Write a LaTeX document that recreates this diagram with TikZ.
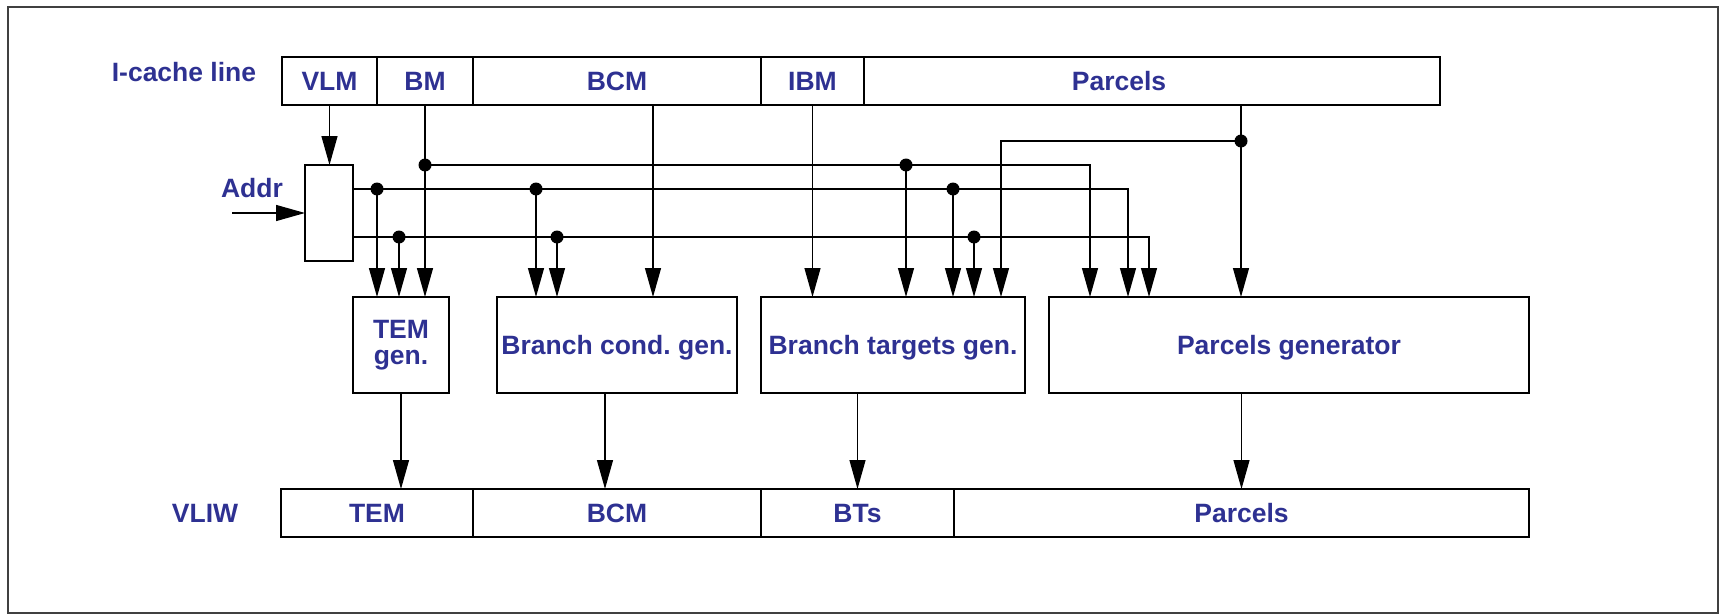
\documentclass[tikz,border=0pt]{standalone}
\usepackage{fontspec}
\setmainfont{Liberation Sans}
\usetikzlibrary{arrows.meta,positioning}
\definecolor{LabelBlue}{RGB}{46,49,146}
\definecolor{FrameGray}{RGB}{64,64,64}
\frenchspacing

\begin{document}
\begin{tikzpicture}[
  x=1pt,y=-1pt,
  font=\fontsize{26.5}{26}\selectfont\bfseries,
  every node/.style={text=LabelBlue,outer sep=0pt,inner sep=0pt},
  cell/.style={draw=black,line width=1.3pt,minimum height=48pt,text depth=0pt},
  gen/.style={draw=black,line width=1.3pt,minimum height=96pt,align=center},
  wire/.style={line width=1.3pt},
  arr/.style={wire,-{Triangle[length=29pt,width=16pt]}},
  dot/.style={circle,fill=black,minimum size=13pt}
]
\useasboundingbox (0,0) rectangle (1736,615);
\draw[line width=2pt,draw=FrameGray] (8,7) rectangle (1718,613);

% instruction cache line
\node (icache) at (184,72) {I-cache line};
\node[cell,minimum width=95pt,anchor=north west] (vlm) at (282,57) {VLM};
\node[cell,minimum width=96pt,right=0pt of vlm] (bm) {BM};
\node[cell,minimum width=288pt,right=0pt of bm] (bcm) {BCM};
\node[cell,minimum width=103pt,right=0pt of bcm] (ibm) {IBM};
\node[cell,minimum width=576pt,right=0pt of ibm,label={[xshift=-33pt]center:Parcels}] (parcels) {};

% address box
\node (addrlbl) at (252,188) {Addr};
\node[draw=black,line width=1.3pt,minimum width=48pt,minimum height=96pt,anchor=north west] (addr) at (305,165) {};
\coordinate (addrin) at (232,213);

% generators
\node[gen,minimum width=96pt,anchor=north west] (temgen) at (353,297) {TEM\\gen.};
\node[gen,minimum width=240pt,text depth=0pt,right=48pt of temgen] (bcgen) {Branch cond. gen.};
\node[gen,minimum width=264pt,text depth=0pt,right=24pt of bcgen] (btgen) {Branch targets gen.};
\node[gen,minimum width=480pt,text depth=0pt,right=24pt of btgen] (pgen) {Parcels generator};

% VLIW
\node (vliw) at (205,513) {VLIW};
\node[cell,minimum width=192pt,anchor=north west] (tem) at (281,489) {TEM};
\node[cell,minimum width=288pt,right=0pt of tem] (bcmout) {BCM};
\node[cell,minimum width=193pt,right=0pt of bcmout] (bts) {BTs};
\node[cell,minimum width=575pt,right=0pt of bts] (parcelsout) {Parcels};

% junctions
\node[dot] (bmtap) at (425,165) {};
\node[dot] (bmtap2) at (906,165) {};
\node[dot] (btap1) at (377,189) {};
\node[dot] (btap2) at (536,189) {};
\node[dot] (btap3) at (953,189) {};
\node[dot] (ctap1) at (399,237) {};
\node[dot] (ctap2) at (557,237) {};
\node[dot] (ctap3) at (974,237) {};
\node[dot] (ptap) at (1241,141) {};

% fields into the generators
\draw[arr] (addrin) -- (addr.west);
\draw[arr] (vlm.south) -- (vlm.south |- addr.north);
\draw[arr] (bm.south) -- (bm.south |- temgen.north);
\draw[arr] ([xshift=36pt]bcm.south) -- ([xshift=36pt]bcgen.north);
\draw[arr] (ibm.south) -- (ibm.south |- btgen.north);
\draw[arr] (ptap |- parcels.south) -- (ptap |- pgen.north);

% buses
\draw[arr] (bmtap.center) -| ([xshift=41pt]pgen.north west);
\draw[arr] ([yshift=24pt]addr.east) -| ([xshift=79pt]pgen.north west);
\draw[arr] ([yshift=-24pt]addr.east) -| ([xshift=100pt]pgen.north west);
\draw[arr] (ptap.center) -| ([xshift=-24pt]btgen.north east);

% taps
\draw[arr] (bmtap2.center) -- (bmtap2 |- btgen.north);
\draw[arr] (btap1.center) -- (btap1 |- temgen.north);
\draw[arr] (ctap1.center) -- (ctap1 |- temgen.north);
\draw[arr] (btap2.center) -- (btap2 |- bcgen.north);
\draw[arr] (ctap2.center) -- (ctap2 |- bcgen.north);
\draw[arr] (btap3.center) -- (btap3 |- btgen.north);
\draw[arr] (ctap3.center) -- (ctap3 |- btgen.north);

% generators into the VLIW
\draw[arr] (temgen.south) -- (temgen.south |- tem.north);
\draw[arr] ([xshift=-12pt]bcgen.south) -- ([xshift=-12pt]bcmout.north);
\draw[arr] (bts.north |- btgen.south) -- (bts.north);
\draw[arr] (parcelsout.north |- pgen.south) -- (parcelsout.north);
\end{tikzpicture}
\end{document}
